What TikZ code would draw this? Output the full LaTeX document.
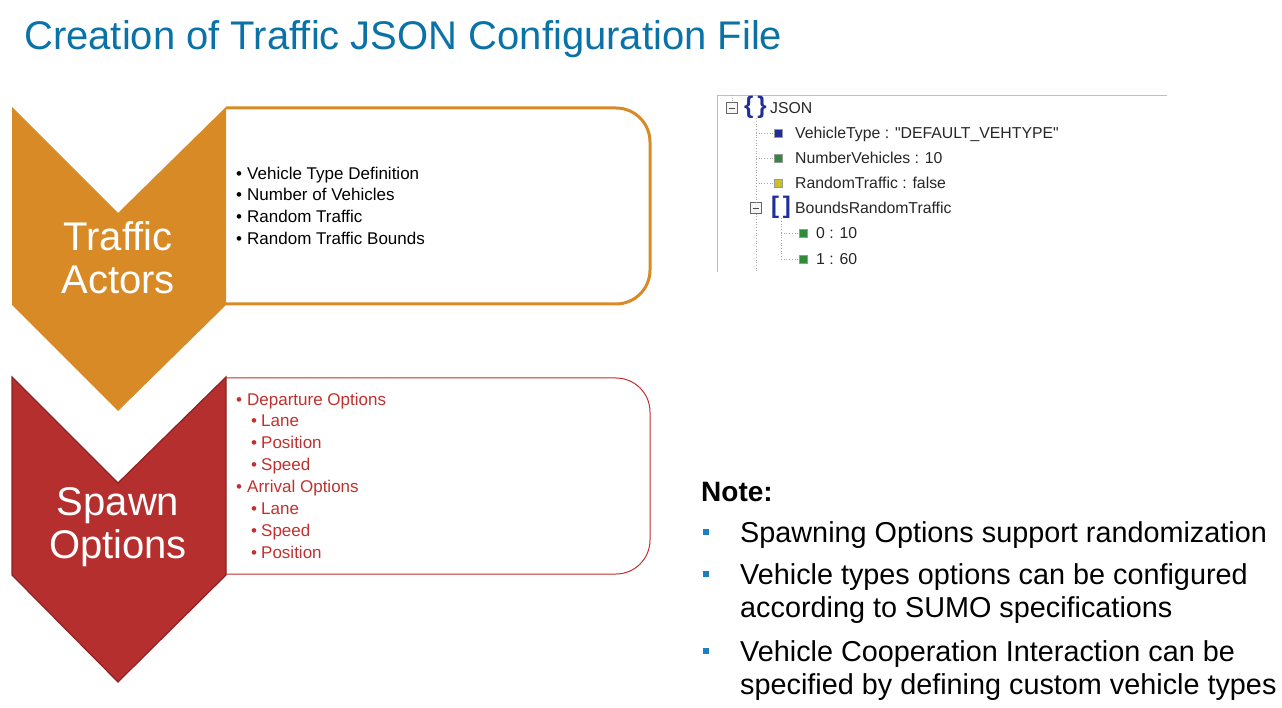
\documentclass[tikz,border=0pt]{standalone}
\usepackage{fontspec}
\setmainfont{Liberation Sans}
\usetikzlibrary{positioning}
\definecolor{TO}{HTML}{D88A26}
\definecolor{SR}{HTML}{B52F2E}
\definecolor{SRd}{HTML}{8C2222}
\definecolor{SRt}{HTML}{C0302E}
\definecolor{TB}{HTML}{0B72A8}
\definecolor{NB}{HTML}{1C80C0}
\definecolor{JN}{HTML}{1F2E9A}
\definecolor{JG}{HTML}{2E8B3A}
\definecolor{JY}{HTML}{C9C224}
\newcommand{\lvlone}[1]{\makebox[11pt][l]{\textbullet}#1}
\newcommand{\lvltwo}[1]{\hspace*{15pt}\makebox[10pt][l]{\textbullet}#1}
\newcommand{\notesq}{\hspace*{3pt}\textcolor{NB}{\rule[7pt]{6pt}{6pt}}}
\tikzset{
  chevtext/.style={text=white, align=center, inner sep=0pt,
    font=\fontsize{40}{43}\selectfont},
  listtext/.style={align=left, inner sep=0pt, anchor=north west},
  treetext/.style={anchor=west, inner sep=0pt, text height=11pt,
    text depth=0pt, text=black!85, font=\fontsize{15.8}{18}\selectfont},
  treesq/.style={minimum size=7.5pt, inner sep=0pt, draw=black!40},
  minusbox/.style={draw=black!60, fill=black!4, minimum size=11pt, inner sep=0pt},
  brk/.style={text=JN, inner sep=0pt, font=\fontsize{24}{26}\selectfont\bfseries},
  treeline/.style={black!35, dotted, line width=0.7pt}
}

\begin{document}
\begin{tikzpicture}[x=1pt,y=-1pt]
\useasboundingbox (0,0) rectangle (1282,708);

% title
\node[anchor=base west, inner sep=0pt, text=TB,
      font=\fontsize{40}{48}\selectfont] (title) at (24,50)
      {Creation of Traffic JSON Configuration File};

% chevrons
\fill[TO] (12,107) -- (118,213) -- (226,107) -- (226,305)
  -- (118,411) -- (12,305) -- cycle;
\filldraw[fill=SR, draw=SRd, line width=1.2pt] (12,377) -- (118,483)
  -- (226,377) -- (226,575) -- (118,682) -- (12,575) -- cycle;
\node[chevtext] (actors) at (118,258) {Traffic\\Actors};
\node[chevtext] (spawn) at (118,527) {Spawn\\Options};

% boxes
\draw[TO, line width=3pt] (226,108) [rounded corners=34pt] -- (650,108)
  -- (650,304) [sharp corners] -- (226,304);
\draw[SRt, line width=1pt] (226,378) [rounded corners=34pt] -- (650,378)
  -- (650,574) [sharp corners] -- (226,574);

\node[listtext, font=\fontsize{17}{21.7}\selectfont] (actorlist) at (236,166.5) {
  \lvlone{Vehicle Type Definition}\\
  \lvlone{Number of Vehicles}\\
  \lvlone{Random Traffic}\\
  \lvlone{Random Traffic Bounds}};
\node[listtext, text=SRt, font=\fontsize{17}{21.86}\selectfont] (spawnlist) at (236,392.5) {
  \lvlone{Departure Options}\\
  \lvltwo{Lane}\\
  \lvltwo{Position}\\
  \lvltwo{Speed}\\
  \lvlone{Arrival Options}\\
  \lvltwo{Lane}\\
  \lvltwo{Speed}\\
  \lvltwo{Position}};

% json tree
\draw[black!25] (717,272) -- (717,95) -- (1167,95);
\node[minusbox] (mjson) at (732,108) {};
\draw[black!70] ([xshift=2.5pt]mjson.west) -- ([xshift=-2.5pt]mjson.east);
\node[brk] (bjson) at (755.5,107) {\{\,\}};
\node[treetext] (json) at (770,108) {JSON};
\node[treesq, fill=JN] (sqa) at (778,133) {};
\node[treetext] (vehtype) at (795,133)
  {VehicleType : \textquotedbl DEFAULT\_VEHTYPE\textquotedbl};
\node[treesq, fill=JG] (sqb) at (778,158) {};
\node[treetext] (numveh) at (795,158) {NumberVehicles : 10};
\node[treesq, fill=JY] (sqc) at (778,183) {};
\node[treetext] (randtraf) at (795,183) {RandomTraffic : false};
\node[minusbox] (mbounds) at (756,208) {};
\draw[black!70] ([xshift=2.5pt]mbounds.west) -- ([xshift=-2.5pt]mbounds.east);
\node[brk] (bbounds) at (781,207) {[\,]};
\node[treetext] (bounds) at (795,208) {BoundsRandomTraffic};
\node[treesq, fill=JG] (sqd) at (803,233) {};
\node[treetext] (bnda) at (816,233) {0 : 10};
\node[treesq, fill=JG] (sqe) at (803,259) {};
\node[treetext] (bndb) at (816,259) {1 : 60};

\coordinate (jtop) at (732,95);
\coordinate (jend) at (756,272);
\draw[treeline] (jtop) -- (mjson.north);
\draw[treeline] (mbounds.center |- bjson.south) -- (mbounds.north);
\draw[treeline] (mbounds.south) -- (jend);
\draw[treeline] (mbounds.center |- sqa) -- (sqa.west);
\draw[treeline] (mbounds.center |- sqb) -- (sqb.west);
\draw[treeline] (mbounds.center |- sqc) -- (sqc.west);
\draw[treeline] (bbounds.south) -- (bbounds.center |- sqe);
\draw[treeline] (bbounds.center |- sqd) -- (sqd.west);
\draw[treeline] (bbounds.center |- sqe) -- (sqe.west);

% note
\node[anchor=base west, inner sep=0pt, font=\fontsize{28}{32}\selectfont\bfseries]
  (note) at (701,501) {Note:};
\node[listtext, font=\fontsize{28.8}{33}\selectfont] (notelist) at (700,519) {%
  \begin{tabular}{@{}p{40pt}@{}l@{}}
  \notesq & Spawning Options support randomization\\[9pt]
  \notesq & Vehicle types options can be configured\\
          & according to SUMO specifications\\[11pt]
  \notesq & Vehicle Cooperation Interaction can be\\
          & specified by defining custom vehicle types
  \end{tabular}};
\end{tikzpicture}
\end{document}
